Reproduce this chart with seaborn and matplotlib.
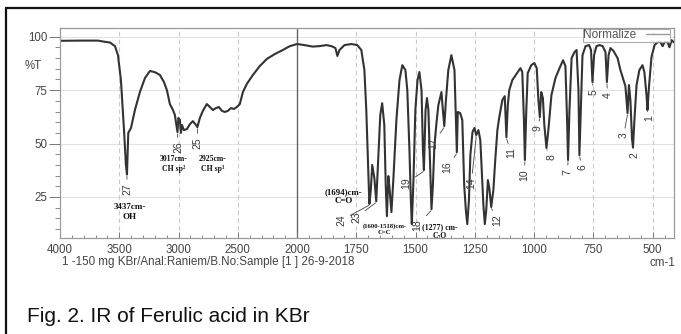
import numpy as np
import pandas as pd
import matplotlib
matplotlib.use("Agg")
import matplotlib.pyplot as plt
from matplotlib.lines import Line2D
from matplotlib.ticker import FixedLocator, NullFormatter
import seaborn as sns

# ---------------- data ----------------
wavenumber = [
    4000, 3831, 3680, 3629, 3578, 3536, 3511, 3486, 3460, 3444, 3435, 3424, 3401,
    3368, 3326, 3283, 3241, 3199, 3157, 3123, 3098, 3073, 3047, 3031, 3018, 3009,
    3001, 2988, 2980, 2971, 2955, 2929, 2904, 2879, 2853, 2841, 2820, 2795, 2761,
    2736, 2710, 2685, 2660, 2634, 2609, 2584, 2559, 2533, 2508, 2483, 2457, 2424,
    2373, 2314, 2255, 2188, 2120, 2061, 2000,
    1969, 1935, 1906, 1876, 1855, 1838, 1830, 1821, 1800, 1771, 1746, 1729, 1716,
    1708, 1701, 1695, 1689, 1683, 1674, 1666, 1658, 1649, 1641, 1632, 1626, 1621,
    1615, 1611, 1602, 1594, 1581, 1568, 1556, 1543, 1535, 1526, 1520, 1516, 1509,
    1501, 1492, 1484, 1475, 1469, 1465, 1458, 1452, 1446, 1440, 1433, 1427, 1421,
    1412, 1404, 1391, 1385, 1379, 1372, 1362, 1349, 1336, 1330, 1326, 1322, 1312,
    1303, 1295, 1288, 1282, 1275, 1269, 1260, 1252, 1244, 1235, 1227, 1221, 1214,
    1208, 1202, 1195, 1189, 1181, 1172, 1164, 1155, 1147, 1134, 1124, 1117, 1111,
    1105, 1092, 1075, 1058, 1050, 1043, 1039, 1033, 1027, 1012, 999, 989, 982,
    976, 970, 963, 957, 948, 940, 927, 910, 893, 878, 868, 861, 857, 851, 842,
    830, 821, 813, 809, 802, 796, 783, 768, 760, 754, 747, 737, 724, 711, 699,
    693, 686, 678, 665, 648, 636, 623, 615, 606, 600, 594, 587, 583, 577, 568,
    556, 543, 535, 526, 522, 515, 505, 492, 479, 467, 458, 450, 437, 429, 420, 412,
]
transmittance = [
    98.1, 98.2, 98.2, 97.7, 97.3, 95.6, 91.4, 79.7, 56.3, 40.0, 35.5, 55.0, 57.3,
    65.7, 74.1, 80.7, 84.0, 83.4, 82.1, 78.8, 75.0, 68.5, 65.7, 63.4, 58.7, 55.4,
    62.0, 61.0, 55.0, 58.7, 56.3, 56.8, 59.1, 60.5, 58.7, 57.7, 62.0, 65.3, 68.5,
    67.1, 65.7, 66.6, 67.1, 65.3, 64.8, 65.3, 66.6, 66.2, 67.1, 68.5, 74.1, 77.9,
    82.1, 86.3, 89.6, 91.9, 93.8, 95.6, 96.6,
    96.1, 95.4, 95.6, 96.1, 95.6, 94.7, 91.0, 93.8, 96.1, 96.6, 96.1, 93.8, 84.4,
    65.7, 42.3, 21.7, 28.2, 40.0, 33.9, 23.0, 42.3, 63.4, 68.9, 58.7, 30.5, 16.0,
    34.8, 30.5, 17.9, 32.9, 61.0, 79.7, 86.7, 84.4, 75.0, 47.0, 23.5, 12.3, 32.9,
    65.7, 79.7, 83.5, 75.0, 47.0, 37.6, 65.7, 71.3, 65.7, 44.6, 19.3, 30.5, 48.3,
    59.6, 68.0, 74.1, 65.7, 58.2, 70.4, 84.4, 91.4, 84.4, 61.0, 46.0, 64.8, 64.3,
    61.0, 30.5, 18.8, 12.3, 23.5, 44.6, 55.4, 57.3, 54.0, 56.3, 51.6, 37.6, 21.2,
    12.3, 18.8, 32.9, 29.2, 20.3, 28.2, 42.3, 56.3, 62.4, 70.4, 72.2, 53.0, 68.0,
    75.0, 79.7, 82.5, 85.3, 83.5, 61.0, 42.3, 65.7, 83.0, 86.7, 87.7, 85.3, 70.4,
    62.4, 74.1, 71.3, 58.7, 47.9, 56.3, 72.7, 80.7, 85.3, 89.0, 86.3, 61.0, 42.3, 65.7, 90.0,
    92.8, 93.8, 75.0, 44.6, 70.4, 91.4, 95.6, 96.1, 93.8, 78.8, 91.4, 95.6, 96.1, 95.6, 92.8,
    78.8, 91.4, 94.7, 93.3, 90.0, 84.4, 79.7, 76.9, 64.3, 77.4, 70.4, 52.0, 48.3, 61.0, 77.4,
    84.4, 86.7, 83.5, 72.7, 65.7, 77.4, 90.5, 96.1, 97.5, 97.5, 95.6, 97.5, 97.5, 95.1, 98.4, 97.5,
]

# numbered peaks: label, peak wavenumber, label anchor (wavenumber, %T)
peak_labels = ["27", "26", "25", "24", "23", "19", "18", "17", "16", "14", "12",
               "11", "10", "9", "8", "7", "6", "5", "4", "3", "2", "1"]
peak_wn = [3435, 3009, 2841, 1695, 1666, 1465, 1433, 1379, 1326, 1244, 1181,
           1117, 1039, 976, 948, 857, 809, 754, 693, 606, 583, 522]
label_wn = [3435, 3005, 2837, 1813, 1750, 1539, 1492, 1425, 1366, 1265, 1155,
            1096, 1041, 986, 927, 859, 796, 749, 690, 622, 576, 513]
label_T = [28.7, 48.3, 50.3, 14.1, 15.5, 31.5, 11.9, 50.3, 39.0, 31.5, 14.1,
           45.6, 35.3, 57.3, 43.7, 36.7, 39.0, 74.1, 72.7, 54.0, 44.6, 61.8]

# band assignments
band_text = ["3437cm-\nOH", "3017cm-\nCH sp\u00b2", "2925cm-\nCH sp\u00b3",
             "(1694)cm-\nC=O", "(1600-1518)cm-\nC=C", "(1277) cm-\nC-O"]
band_wn = [3410, 3039, 2710, 1805, 1631, 1399]
band_T = [17.9, 40.4, 40.4, 25.2, 10.0, 8.8]
band_size = [6.5, 5.6, 5.6, 6.4, 4.8, 5.6]

major_ticks = [4000, 3500, 3000, 2500, 2000, 1750, 1500, 1250, 1000, 750, 500]
y_ticks = [25, 50, 75, 100]

df = pd.DataFrame({"wavenumber": wavenumber, "T": transmittance})

# ---------------- style ----------------
sns.set_style("white")
plt.rcParams["font.family"] = ["Liberation Sans", "DejaVu Sans"]

W, H = 681, 334
fig = plt.figure(figsize=(W / 100, H / 100), dpi=100)


def fx(px):
    return px / W


def fy(py):
    return 1 - py / H


ax = fig.add_axes([fx(60), fy(238), fx(674) - fx(60), fy(28) - fy(238)])


# IR-style dual-scale axis: 4000-2000 compressed by a factor of 2
def fwd(x):
    x = np.asarray(x, dtype=float)
    return np.where(x > 2000, 2000 + (x - 2000) / 2.0, x)


def inv(u):
    u = np.asarray(u, dtype=float)
    return np.where(u > 2000, 2000 + (u - 2000) * 2.0, u)


ax.set_xscale("function", functions=(fwd, inv))

line_col = "#333333"
sns.lineplot(data=df, x="wavenumber", y="T", ax=ax, sort=False, estimator=None,
             color=line_col, lw=1.5, legend=False)

ax.set_xlim(4000, 410)
ax.set_ylim(5.8, 104.1)

# grid
for t in y_ticks:
    ax.axhline(t, color="#e2e2e2", lw=0.8, zorder=0)
for t in major_ticks:
    if t in (4000, 2000):
        continue
    ax.axvline(t, color="#c9c9c9", lw=0.8, ls=(0, (4, 3)), zorder=0)
ax.axvline(2000, color="#666666", lw=1.0, zorder=0.5)

# ticks
ax.xaxis.set_major_locator(FixedLocator(major_ticks))
ax.set_xticklabels([str(t) for t in major_ticks])
minor_x = list(range(3900, 2000, -100)) + list(range(1950, 400, -50))
ax.xaxis.set_minor_locator(FixedLocator(minor_x))
ax.xaxis.set_minor_formatter(NullFormatter())
ax.yaxis.set_major_locator(FixedLocator(y_ticks))
ax.set_yticklabels([str(t) for t in y_ticks])
ax.yaxis.set_minor_locator(FixedLocator(list(range(10, 105, 5))))
ax.yaxis.set_minor_formatter(NullFormatter())
ax.tick_params(axis="x", which="major", direction="in", length=4, width=0.7,
               color="#777777", labelsize=8.3, labelcolor="#444444", pad=4.5,
               bottom=True)
ax.tick_params(axis="x", which="minor", direction="in", length=2.5, width=0.6,
               color="#777777", bottom=True)
ax.tick_params(axis="y", which="major", direction="out", length=8, width=0.7,
               color="#777777", labelsize=8.3, labelcolor="#444444", pad=1,
               left=True)
ax.tick_params(axis="y", which="minor", direction="out", length=3.5, width=0.6,
               color="#777777", left=True)
ax.set_xlabel("")
ax.set_ylabel("")
for s in ax.spines.values():
    s.set_color("#9a9a9a")
    s.set_linewidth(0.9)

# numbered peak labels
wn_arr = np.array(wavenumber[::-1], dtype=float)
t_arr = np.array(transmittance[::-1], dtype=float)
for lab, pw, lw_, lt in zip(peak_labels, peak_wn, label_wn, label_T):
    pt = float(np.interp(pw, wn_arr, t_arr))
    ax.annotate(lab, xy=(pw, pt - 0.5), xytext=(lw_, lt), rotation=90,
                ha="center", va="center", fontsize=7.5, color="#3a3a3a",
                arrowprops=dict(arrowstyle="-", lw=0.6, color="#444444",
                                shrinkA=0.5, shrinkB=0.5))

# band assignments
for txt, bw, bt, sz in zip(band_text, band_wn, band_T, band_size):
    ax.text(bw, bt, txt, ha="center", va="center", fontsize=sz,
            family=["Liberation Serif", "DejaVu Serif"], fontweight="bold",
            color="#111111", linespacing=1.25)

# legend box
handle = Line2D([0], [0], color="#9a9a9a", lw=1.0)
leg = ax.legend([handle], ["Normalize"], loc="upper right",
                bbox_to_anchor=(0.9935, 0.997), frameon=True, fancybox=False,
                fontsize=8.5, markerfirst=False, borderpad=0.05,
                handlelength=2.0, handletextpad=0.8, borderaxespad=0)
leg.get_frame().set_edgecolor("#9a9a9a")
leg.get_frame().set_linewidth(0.8)
for t in leg.get_texts():
    t.set_color("#555555")

# other texts
fig.text(fx(33), fy(66), "%T", ha="center", va="center", fontsize=8.3,
         color="#444444")
fig.text(fx(62), fy(262), "1 -150 mg KBr/Anal:Raniem/B.No:Sample [1 ] 26-9-2018",
         ha="left", va="center", fontsize=8.4, color="#444444")
fig.text(fx(675), fy(263), "cm-1", ha="right", va="center", fontsize=8.4,
         color="#444444")
fig.text(fx(27), fy(322), "Fig. 2. IR of Ferulic acid in KBr", ha="left",
         va="baseline", fontsize=15, color="#111111")

# outer frame (top and left edges of the original box)
fig.add_artist(Line2D([fx(5.5), fx(5.5)], [0, fy(7.5)], color="#111111",
                      lw=1.6, transform=fig.transFigure))
fig.add_artist(Line2D([fx(5.5), 1.0], [fy(7.5), fy(7.5)], color="#111111",
                      lw=1.6, transform=fig.transFigure))

fig.savefig("out.png", dpi=100)
